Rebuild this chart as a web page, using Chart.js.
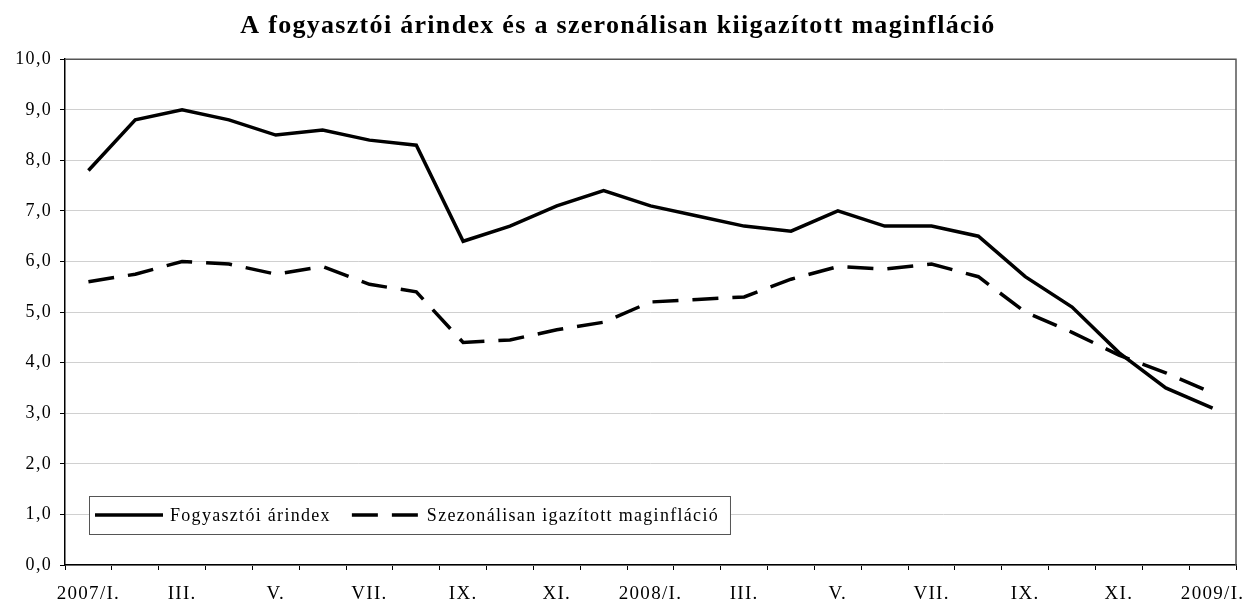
<!DOCTYPE html>
<html>
<head>
<meta charset="utf-8">
<script src="https://cdn.jsdelivr.net/npm/chart.js@4.4.1/dist/chart.umd.min.js"></script>
<style>
  html, body { margin: 0; padding: 0; background: #fff; }
  canvas { display: block; }
</style>
</head>
<body>
<canvas id="inflChart" width="1244" height="603"></canvas>
<script>
const months = [
  '2007/I.', 'II.', 'III.', 'IV.', 'V.', 'VI.', 'VII.', 'VIII.', 'IX.', 'X.', 'XI.', 'XII.',
  '2008/I.', 'II.', 'III.', 'IV.', 'V.', 'VI.', 'VII.', 'VIII.', 'IX.', 'X.', 'XI.', 'XII.',
  '2009/I.'
];
const labelEvery = 2;

const cpi = [7.8, 8.8, 9.0, 8.8, 8.5, 8.6, 8.4, 8.3, 6.4, 6.7, 7.1, 7.4,
             7.1, 6.9, 6.7, 6.6, 7.0, 6.7, 6.7, 6.5, 5.7, 5.1, 4.2, 3.5, 3.1];
const coreInfl = [5.6, 5.75, 6.0, 5.95, 5.75, 5.9, 5.55, 5.4, 4.4, 4.45, 4.65, 4.8,
                  5.2, 5.25, 5.3, 5.65, 5.9, 5.85, 5.95, 5.7, 5.0, 4.6, 4.15, 3.8, 3.4];

const seriesNames = ['Fogyasztói árindex', 'Szezonálisan igazított maginfláció'];
const chartTitle = 'A fogyasztói árindex és a szeronálisan kiigazított maginfláció';

const serif = '"Liberation Serif", "Times New Roman", serif';
const dashPattern = [26, 14];

// the original text is set a bit wide, so loosen the letters everywhere
const spacing = {
  id: 'spacing',
  beforeUpdate(chart) { chart.ctx.letterSpacing = '1.3px'; },
  beforeDraw(chart) { chart.ctx.letterSpacing = '1.3px'; }
};

// plot frame (top + right) and the legend box sitting inside the plot
const framePlugin = {
  id: 'frame',
  beforeDatasetsDraw(chart) {
    const { ctx, chartArea: a } = chart;
    ctx.save();
    ctx.strokeStyle = '#555';
    ctx.lineWidth = 1.5;
    ctx.beginPath();
    ctx.moveTo(a.left, a.top);
    ctx.lineTo(a.right, a.top);
    ctx.lineTo(a.right, a.bottom);
    ctx.stroke();
    ctx.restore();
  },
  afterDraw(chart) {
    const { ctx, chartArea: a } = chart;
    const sets = chart.data.datasets;
    ctx.save();
    ctx.font = '18px ' + serif;
    const sample = 68, gapTxt = 7, gapItem = 21;
    const left = a.left + 24, top = a.bottom - 69, h = 38;
    let w = 6;
    sets.forEach((ds, i) => {
      w += sample + gapTxt + ctx.measureText(ds.label).width;
      if (i < sets.length - 1) w += gapItem;
    });
    w += 11;
    ctx.fillStyle = '#fff';
    ctx.fillRect(left, top, w, h);
    ctx.strokeStyle = '#555';
    ctx.lineWidth = 1;
    ctx.strokeRect(left + 0.5, top + 0.5, w, h);

    let x = left + 6;
    const y = top + h / 2;
    sets.forEach((ds) => {
      ctx.strokeStyle = ds.borderColor;
      ctx.lineWidth = ds.borderWidth;
      ctx.setLineDash(ds.borderDash || []);
      ctx.beginPath();
      ctx.moveTo(x, y);
      ctx.lineTo(x + sample, y);
      ctx.stroke();
      ctx.setLineDash([]);
      x += sample + gapTxt;
      ctx.fillStyle = '#000';
      ctx.textBaseline = 'middle';
      ctx.fillText(ds.label, x, y + 1);
      x += ctx.measureText(ds.label).width + gapItem;
    });
    ctx.restore();
  }
};

new Chart(document.getElementById('inflChart'), {
  type: 'line',
  data: {
    labels: months,
    datasets: [{
      label: seriesNames[0],
      data: cpi,
      borderColor: '#000',
      borderWidth: 3.5,
      pointRadius: 0,
      tension: 0
    }, {
      label: seriesNames[1],
      data: coreInfl,
      borderColor: '#000',
      borderWidth: 3.5,
      borderDash: dashPattern,
      pointRadius: 0,
      tension: 0
    }]
  },
  options: {
    responsive: false,
    animation: false,
    layout: { padding: { left: 0, right: 8, top: 0, bottom: 0 } },
    plugins: {
      legend: { display: false },
      tooltip: { enabled: false },
      title: {
        display: true,
        text: chartTitle,
        color: '#000',
        font: { family: serif, size: 26, weight: 'bold' },
        padding: { top: 11, bottom: 17 }
      }
    },
    scales: {
      x: {
        offset: true,
        grid: {
          offset: true,
          drawOnChartArea: false,
          drawTicks: true,
          tickLength: 5,
          tickColor: '#000'
        },
        border: { color: '#000', width: 1.5 },
        ticks: {
          autoSkip: false,
          maxRotation: 0,
          padding: 13,
          color: '#000',
          font: { family: serif, size: 19 },
          callback: (v, i) => (i % labelEvery === 0 ? months[i] : '')
        },
        afterFit: (s) => {
          s.height = 38;
          s.paddingLeft = 0;
          s.paddingRight = 0;
        }
      },
      y: {
        min: 0,
        max: 10,
        ticks: {
          stepSize: 1,
          padding: 8,
          color: '#000',
          font: { family: serif, size: 18 },
          callback: (v) => v.toFixed(1).replace('.', ',')
        },
        grid: {
          color: '#d0d0d0',
          lineWidth: 1,
          tickLength: 5,
          tickColor: '#000'
        },
        border: { color: '#000', width: 1.5 },
        afterFit: (s) => { s.width = 65; }
      }
    }
  },
  plugins: [spacing, framePlugin]
});
</script>
</body>
</html>
